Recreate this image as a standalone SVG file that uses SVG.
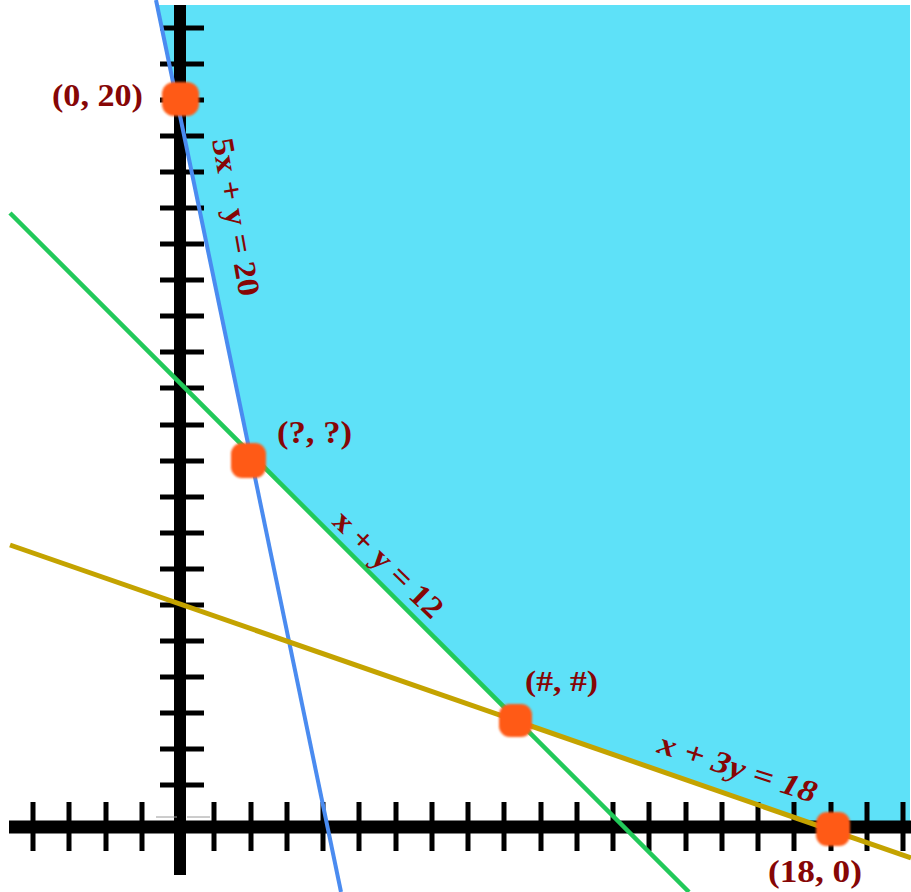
<svg xmlns="http://www.w3.org/2000/svg" width="911" height="892" viewBox="0 0 911 892">
  <defs>
    <filter id="soft" x="-20%" y="-20%" width="140%" height="140%">
      <feGaussianBlur stdDeviation="1.2"/>
    </filter>
    <style>
      .axis { stroke: #000; fill: none; }
      .tick { stroke: #000; stroke-width: 5; fill: none; }
      .ln { fill: none; stroke-linecap: butt; }
      .dot { fill: #FF5A12; filter: url(#soft); }
      .lbl { font-family: "Liberation Serif", "Times New Roman", serif; font-weight: bold; fill: #860606; }
      .eq { font-family: "Liberation Serif", "Times New Roman", serif; font-weight: bold; fill: #860606; font-size: 31px; }
    </style>
  </defs>

  <rect x="0" y="0" width="911" height="892" fill="#FFFFFF"/>

  <g id="feasible-region">
    <polygon points="157,5 910,5 910,827 822,827 518.5,721.4 249.4,452.4" fill="#5EE1F8"/>
  </g>

  <g id="axes">
    <line class="axis" x1="180" y1="5" x2="180" y2="875" stroke-width="12"/>
    <line class="axis" x1="9" y1="827" x2="911" y2="827" stroke-width="13"/>
    <path class="tick" d="M160 28H204M160 64H204M160 100H204M160 136H204M160 172H204M160 208H204M160 244H204M160 280H204M160 316H204M160 352H204M160 388H204M160 425H204M160 461H204M160 497H204M160 533H204M160 569H204M160 605H204M160 641H204M160 677H204M160 713H204M160 749H204M160 785H204"/>
    <path class="tick" d="M33 802V851M69 802V851M106 802V851M142 802V851M214 802V851M251 802V851M287 802V851M323 802V851M359 802V851M396 802V851M432 802V851M468 802V851M504 802V851M541 802V851M577 802V851M613 802V851M649 802V851M686 802V851M722 802V851M758 802V851M794 802V851M831 802V851M867 802V851M903 802V851"/>
    <path d="M156 817H177M187 817H210" stroke="#9a9a9a" stroke-width="1" fill="none"/>
  </g>

  <g id="connectors">
    <line id="line-5x-y-20" class="ln" x1="156" y1="0" x2="341" y2="892" stroke="#4A8BF0" stroke-width="4"/>
    <line id="line-x-y-12" class="ln" x1="10" y1="213" x2="689" y2="892" stroke="#22C95A" stroke-width="4.5"/>
    <line id="line-x-3y-18" class="ln" x1="10" y1="545" x2="911" y2="858" stroke="#C4A300" stroke-width="5"/>
  </g>

  <g id="point-0-20">
    <rect class="dot" x="162" y="82" width="37" height="34" rx="12"/>
    <text class="lbl" x="52" y="106" font-size="31" textLength="91" lengthAdjust="spacingAndGlyphs">(0, 20)</text>
  </g>
  <g id="point-q">
    <rect class="dot" x="231" y="443" width="35" height="35" rx="11"/>
    <text class="lbl" x="277" y="443" font-size="31" textLength="75" lengthAdjust="spacingAndGlyphs">(?, ?)</text>
  </g>
  <g id="point-h">
    <rect class="dot" x="499" y="704" width="33" height="33" rx="11"/>
    <text class="lbl" x="525" y="691" font-size="30" textLength="73" lengthAdjust="spacingAndGlyphs">(#, #)</text>
  </g>
  <g id="point-18-0">
    <rect class="dot" x="816" y="812" width="34" height="34" rx="11"/>
    <text class="lbl" x="768" y="882" font-size="31" textLength="94" lengthAdjust="spacingAndGlyphs">(18, 0)</text>
  </g>

  <g id="label-5x-y-20">
    <text class="eq" transform="translate(212,140) rotate(80)" textLength="160" lengthAdjust="spacingAndGlyphs">5x + y = 20</text>
  </g>
  <g id="label-x-y-12">
    <text class="eq" transform="translate(331,523) rotate(44)" textLength="140" lengthAdjust="spacingAndGlyphs">x + y = 12</text>
  </g>
  <g id="label-x-3y-18">
    <text class="eq" font-style="italic" font-size="33" transform="translate(656,752) rotate(18)" textLength="165" lengthAdjust="spacingAndGlyphs">x + 3y = 18</text>
  </g>
</svg>
